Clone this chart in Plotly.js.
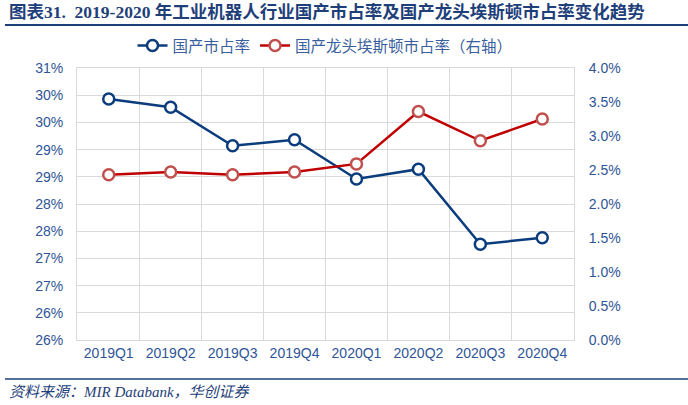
<!DOCTYPE html>
<html>
<head>
<meta charset="utf-8">
<script src="https://cdn.plot.ly/plotly-3.0.1.min.js"></script>
<style>html,body{margin:0;padding:0;background:#fff;}#chart{width:688px;height:405px;}</style>
</head>
<body>
<div id="chart"></div>
<script>
const categories = ['2019Q1','2019Q2','2019Q3','2019Q4','2020Q1','2020Q2','2020Q3','2020Q4'];
const domesticShare = [30.43, 30.28, 29.57, 29.68, 28.96, 29.14, 27.76, 27.88];
const estunShare = [2.43, 2.47, 2.43, 2.47, 2.59, 3.36, 2.93, 3.25];
const leftTickVals = [26, 26.5, 27, 27.5, 28, 28.5, 29, 29.5, 30, 30.5, 31];
const leftTickText = ['26%','26%','27%','27%','28%','28%','29%','29%','30%','30%','31%'];
const rightTickVals = [0, 0.5, 1, 1.5, 2, 2.5, 3, 3.5, 4];
const rightTickText = ['0.0%','0.5%','1.0%','1.5%','2.0%','2.5%','3.0%','3.5%','4.0%'];
const seriesNames = ['国产市占率', '国产龙头埃斯顿市占率（右轴）'];
const titleText = '<b>图表31.  2019-2020 年工业机器人行业国产市占率及国产龙头埃斯顿市占率变化趋势</b>';
const sourceText = '<i>资料来源：MIR Databank，华创证券</i>';

const L = 77, R = 574, T = 68, B = 340, W = 688, H = 405;
const px = x => (x - L) / (R - L);
const py = y => (B - y) / (B - T);

const tickFont = {family: 'Liberation Sans, Arial, sans-serif', size: 14, color: '#2f5597'};

const traces = [
  {
    x: categories, y: domesticShare, name: seriesNames[0], type: 'scatter', mode: 'lines+markers',
    line: {color: '#0b3c7d', width: 2.5},
    marker: {symbol: 'circle', size: 11, color: '#ffffff', line: {color: '#0b3c7d', width: 2.5}},
    yaxis: 'y'
  },
  {
    x: categories, y: estunShare, name: seriesNames[1], type: 'scatter', mode: 'lines+markers',
    line: {color: '#c00000', width: 2.5},
    marker: {symbol: 'circle', size: 11, color: '#ffffff', line: {color: '#c0504d', width: 2.5}},
    yaxis: 'y2'
  }
];

const layout = {
  width: W, height: H,
  margin: {l: L, r: W - R, t: T, b: H - B},
  paper_bgcolor: '#ffffff', plot_bgcolor: '#ffffff',
  showlegend: true,
  legend: {
    orientation: 'h', x: px(325), xanchor: 'center', y: py(46), yanchor: 'middle',
    font: {family: 'Noto Sans CJK SC, sans-serif', size: 15.5, color: '#3a5f9e'},
    itemwidth: 30, tracegroupgap: 0, bgcolor: 'rgba(0,0,0,0)'
  },
  xaxis: {
    type: 'category', tickson: 'boundaries', showgrid: true, gridcolor: '#d9d9d9', gridwidth: 1,
    showline: true, linecolor: '#d9d9d9', linewidth: 1, mirror: true,
    ticks: 'outside', ticklen: 6, tickcolor: 'rgba(0,0,0,0)', tickfont: tickFont, fixedrange: true
  },
  yaxis: {
    range: [26, 31], tickvals: leftTickVals, ticktext: leftTickText,
    showgrid: true, gridcolor: '#d9d9d9', gridwidth: 1, zeroline: false,
    showline: true, linecolor: '#d9d9d9', linewidth: 1,
    ticks: 'outside', ticklen: 10, tickcolor: 'rgba(0,0,0,0)', tickfont: tickFont, fixedrange: true
  },
  yaxis2: {
    range: [0, 4], tickvals: rightTickVals, ticktext: rightTickText,
    overlaying: 'y', side: 'right', showgrid: false, zeroline: false,
    showline: true, linecolor: '#d9d9d9', linewidth: 1,
    ticks: 'outside', ticklen: 11, tickcolor: 'rgba(0,0,0,0)', tickfont: tickFont, fixedrange: true
  },
  shapes: [
    {type: 'line', xref: 'paper', yref: 'paper', x0: px(5), x1: px(688), y0: py(25), y1: py(25), line: {color: '#1f3f7a', width: 2}},
    {type: 'line', xref: 'paper', yref: 'paper', x0: px(5), x1: px(688), y0: py(379), y1: py(379), line: {color: '#1f3f7a', width: 1.5}}
  ],
  annotations: [
    {text: titleText, xref: 'paper', yref: 'paper', x: px(7), y: py(12), xanchor: 'left', yanchor: 'middle', showarrow: false,
     font: {family: 'Liberation Serif, Noto Sans CJK SC, serif', size: 17.5, color: '#1f3f7a'}},
    {text: sourceText, xref: 'paper', yref: 'paper', x: px(7), y: py(392), xanchor: 'left', yanchor: 'middle', showarrow: false,
     font: {family: 'Liberation Serif, Noto Sans CJK SC, serif', size: 15, color: '#1f3f7a'}}
  ]
};

Plotly.newPlot('chart', traces, layout, {displayModeBar: false, staticPlot: true});
</script>
</body>
</html>
